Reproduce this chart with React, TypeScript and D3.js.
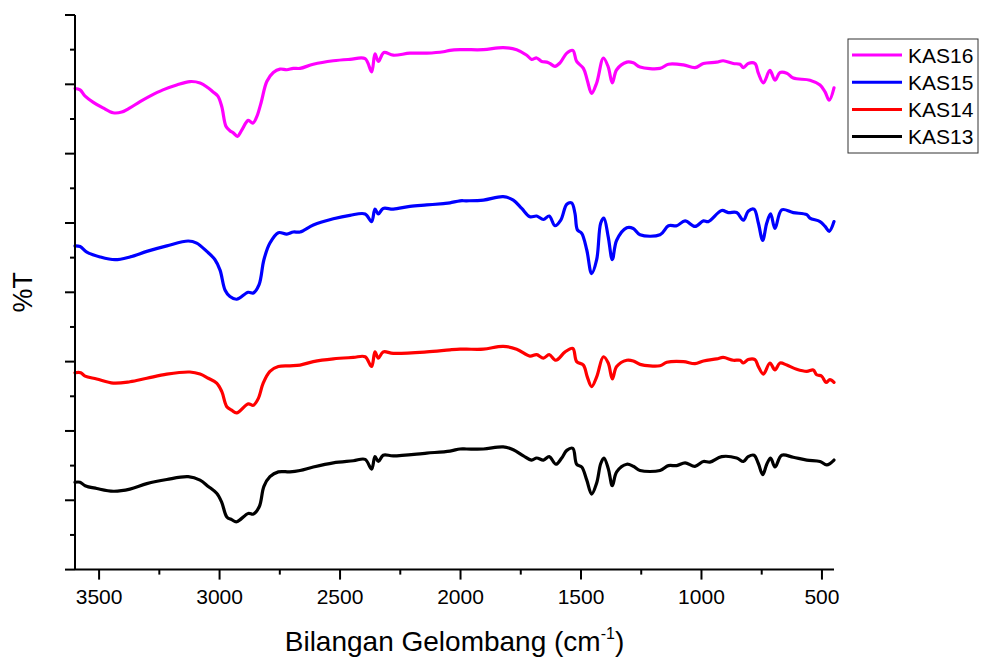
import React from 'react';
import * as d3 from 'd3';

// ---- data (wavenumber cm^-1, %T arbitrary offset units) ----
const xDomain: [number, number] = [3600, 450];
const yDomain: [number, number] = [0, 80];
const xMajorTicks = [3500, 3000, 2500, 2000, 1500, 1000, 500];
const xMinorTicks = [3250, 2750, 2250, 1750, 1250, 750];
const yMajorTicks = [0, 10, 20, 30, 40, 50, 60, 70, 80];
const yMinorTicks = [5, 15, 25, 35, 45, 55, 65, 75];

const seriesNames = ['KAS16', 'KAS15', 'KAS14', 'KAS13'];
const seriesColors = ['#FF00FF', '#0000FF', '#FF0000', '#000000'];

const kas16: [number, number][] = [
  [3600, 69.4], [3579, 69.2], [3558, 68.3], [3524, 67.4], [3484, 66.6], [3442, 65.9], [3406, 66.0],
  [3372, 66.6], [3330, 67.5], [3289, 68.3], [3235, 69.2], [3178, 69.9], [3123, 70.4], [3081, 70.2],
  [3048, 69.5], [3027, 68.9], [3007, 68.3], [2991, 66.8], [2973, 63.9], [2957, 63.3], [2943, 63.0],
  [2926, 62.5], [2908, 63.4], [2881, 64.8], [2862, 64.4], [2846, 65.3], [2828, 67.3], [2804, 70.4],
  [2777, 71.7], [2749, 72.2], [2721, 72.1], [2694, 72.3], [2666, 72.3], [2611, 72.9], [2528, 73.4],
  [2459, 73.6], [2396, 73.7], [2369, 71.8], [2355, 74.4], [2341, 73.3], [2318, 74.6], [2279, 74.2],
  [2210, 74.5], [2140, 74.5], [2071, 74.7], [2044, 74.9], [2002, 75.0], [1975, 75.0], [1905, 75.0],
  [1823, 75.3], [1767, 75.0], [1725, 74.2], [1705, 73.6], [1684, 73.8], [1663, 73.3], [1642, 73.2],
  [1629, 73.0], [1608, 72.6], [1587, 73.1], [1559, 74.5], [1534, 74.9], [1518, 73.3], [1490, 72.3],
  [1474, 70.6], [1456, 68.7], [1435, 70.2], [1407, 73.8], [1387, 72.5], [1370, 70.2], [1352, 72.1],
  [1310, 73.2], [1283, 73.1], [1255, 72.5], [1172, 72.3], [1137, 72.9], [1075, 72.8], [1027, 72.4],
  [992, 73.0], [937, 73.2], [910, 73.4], [868, 73.0], [840, 72.9], [826, 72.4], [806, 73.0],
  [778, 73.0], [764, 71.6], [743, 70.2], [716, 72.0], [695, 70.6], [674, 71.7], [646, 71.6],
  [619, 70.9], [550, 70.6], [508, 69.9], [487, 68.9], [470, 67.7], [450, 69.5],
];

const kas15: [number, number][] = [
  [3600, 46.7], [3579, 46.6], [3551, 45.8], [3496, 45.1], [3434, 44.7], [3372, 45.1], [3302, 45.9],
  [3219, 46.7], [3130, 47.4], [3095, 47.1], [3053, 45.9], [3019, 44.7], [2998, 43.2], [2977, 40.3],
  [2957, 39.4], [2929, 39.0], [2881, 40.0], [2860, 39.9], [2836, 41.1], [2816, 44.7], [2791, 47.1],
  [2756, 48.6], [2721, 48.4], [2694, 48.7], [2666, 48.7], [2611, 49.7], [2528, 50.6], [2459, 51.1],
  [2396, 51.3], [2369, 50.2], [2355, 52.0], [2341, 51.3], [2321, 52.1], [2279, 52.0], [2210, 52.4],
  [2140, 52.6], [2071, 52.8], [2044, 52.9], [2002, 53.2], [1975, 53.2], [1905, 53.3], [1823, 53.8],
  [1781, 53.3], [1746, 52.1], [1712, 50.9], [1684, 51.0], [1656, 50.5], [1632, 51.0], [1608, 49.6],
  [1584, 50.4], [1559, 52.7], [1539, 52.9], [1525, 51.4], [1515, 49.0], [1497, 48.5], [1476, 46.1],
  [1456, 42.7], [1435, 44.7], [1418, 50.0], [1405, 50.7], [1387, 48.0], [1370, 44.7], [1352, 47.5],
  [1310, 49.3], [1283, 49.2], [1255, 48.3], [1172, 48.3], [1137, 49.6], [1103, 49.6], [1068, 50.3],
  [1027, 49.5], [992, 50.3], [972, 50.2], [916, 51.8], [889, 51.5], [854, 51.5], [826, 50.4],
  [806, 51.7], [782, 52.0], [764, 50.0], [746, 47.5], [729, 50.0], [713, 51.3], [695, 49.2],
  [667, 51.9], [619, 51.5], [563, 51.2], [550, 50.7], [508, 50.2], [487, 49.5], [470, 48.8], [450, 50.2],
];

const kas14: [number, number][] = [
  [3600, 28.4], [3576, 28.4], [3558, 27.9], [3510, 27.5], [3441, 26.9], [3372, 27.1], [3302, 27.6],
  [3219, 28.2], [3123, 28.5], [3081, 28.2], [3047, 27.6], [3012, 26.9], [2991, 25.7], [2970, 23.5],
  [2950, 23.0], [2929, 22.6], [2881, 23.9], [2860, 23.7], [2839, 24.7], [2819, 26.9], [2791, 28.6],
  [2756, 29.3], [2708, 29.4], [2666, 29.5], [2611, 30.0], [2528, 30.4], [2445, 30.6], [2396, 30.7],
  [2369, 29.3], [2355, 31.4], [2341, 30.5], [2321, 31.4], [2279, 31.2], [2140, 31.4], [2044, 31.7],
  [2002, 31.8], [1975, 31.8], [1905, 31.8], [1823, 32.2], [1767, 31.8], [1712, 30.8], [1684, 31.0],
  [1656, 30.5], [1632, 31.0], [1604, 30.2], [1566, 31.4], [1534, 31.9], [1518, 30.0], [1490, 29.5],
  [1474, 27.8], [1456, 26.4], [1435, 27.8], [1407, 30.7], [1387, 29.8], [1370, 27.5], [1352, 29.3],
  [1310, 30.2], [1283, 30.1], [1255, 29.6], [1172, 29.4], [1144, 29.9], [1075, 30.0], [1027, 29.7],
  [992, 30.1], [937, 30.4], [910, 30.6], [868, 30.2], [840, 30.2], [826, 29.8], [806, 30.3],
  [778, 30.3], [764, 29.3], [743, 28.2], [716, 29.8], [695, 28.8], [674, 29.8], [646, 29.5],
  [605, 28.9], [563, 28.6], [536, 28.8], [522, 28.1], [501, 27.9], [483, 27.0], [467, 27.4], [450, 27.0],
];

const kas13: [number, number][] = [
  [3600, 12.6], [3579, 12.6], [3558, 12.1], [3510, 11.7], [3441, 11.3], [3372, 11.6], [3302, 12.4],
  [3219, 13.0], [3130, 13.4], [3081, 12.9], [3047, 12.0], [3012, 11.0], [2991, 9.7], [2970, 7.6],
  [2950, 7.2], [2929, 6.9], [2881, 8.1], [2860, 8.0], [2835, 9.1], [2816, 12.0], [2791, 13.4],
  [2756, 14.1], [2708, 14.1], [2666, 14.3], [2611, 14.8], [2528, 15.4], [2445, 15.7], [2396, 15.9],
  [2369, 14.5], [2355, 16.3], [2341, 15.6], [2321, 16.5], [2279, 16.4], [2140, 16.8], [2044, 17.1],
  [2002, 17.4], [1975, 17.4], [1905, 17.4], [1823, 17.7], [1781, 17.3], [1739, 16.4], [1705, 15.8],
  [1684, 16.1], [1656, 15.8], [1632, 16.3], [1604, 15.2], [1580, 16.1], [1559, 17.2], [1534, 17.5],
  [1518, 15.2], [1497, 14.8], [1476, 12.9], [1456, 10.9], [1435, 12.5], [1418, 15.3], [1405, 16.1],
  [1387, 14.6], [1370, 12.1], [1352, 14.1], [1310, 15.2], [1283, 14.9], [1255, 14.3], [1172, 14.3],
  [1137, 15.0], [1103, 15.0], [1068, 15.4], [1027, 14.9], [992, 15.6], [965, 15.5], [916, 16.3],
  [854, 16.1], [826, 15.6], [806, 16.3], [782, 16.5], [764, 15.3], [746, 13.7], [729, 15.2],
  [713, 16.1], [695, 14.8], [667, 16.5], [619, 16.2], [563, 15.8], [508, 15.6], [480, 15.1], [450, 15.8],
];

const seriesData = [kas16, kas15, kas14, kas13];

const W = 981;
const H = 659;
const FONT = "'Liberation Sans', Arial, sans-serif";

export default function App() {
  const x = d3.scaleLinear().domain(xDomain).range([75, 834]);
  const y = d3.scaleLinear().domain(yDomain).range([569.6, 15]);
  const line = d3
    .line<[number, number]>()
    .x((d) => x(d[0]))
    .y((d) => y(d[1]))
    .curve(d3.curveCatmullRom.alpha(0.5));

  const x0 = x(xDomain[0]);
  const x1 = x(xDomain[1]);
  const yb = y(yDomain[0]);
  const yt = y(yDomain[1]);

  return (
    <svg
      width={W}
      height={H}
      style={{ position: 'absolute', left: 0, top: 0, background: '#fff' }}
      fontFamily={FONT}
    >
      <rect x={0} y={0} width={W} height={H} fill="#fff" />
      {/* series */}
      {seriesData.map((d, i) => (
        <path
          key={seriesNames[i]}
          d={line(d) || ''}
          fill="none"
          stroke={seriesColors[i]}
          strokeWidth={3.2}
          strokeLinejoin="round"
          strokeLinecap="round"
        />
      ))}
      {/* y axis */}
      <line x1={x0} x2={x0} y1={yt} y2={yb} stroke="#000" strokeWidth={2} />
      {yMajorTicks.map((t) => (
        <line key={'ym' + t} x1={x0 - 10} x2={x0} y1={y(t)} y2={y(t)} stroke="#000" strokeWidth={2} />
      ))}
      {yMinorTicks.map((t) => (
        <line key={'yn' + t} x1={x0 - 5} x2={x0} y1={y(t)} y2={y(t)} stroke="#000" strokeWidth={2} />
      ))}
      {/* x axis */}
      <line x1={x0} x2={x1} y1={yb} y2={yb} stroke="#000" strokeWidth={2} />
      {xMajorTicks.map((t) => (
        <g key={'xm' + t}>
          <line x1={x(t)} x2={x(t)} y1={yb} y2={yb + 10} stroke="#000" strokeWidth={2} />
          <text x={x(t)} y={604} fontSize={21} textAnchor="middle" fill="#000">
            {t}
          </text>
        </g>
      ))}
      {xMinorTicks.map((t) => (
        <line key={'xn' + t} x1={x(t)} x2={x(t)} y1={yb} y2={yb + 5} stroke="#000" strokeWidth={2} />
      ))}
      {/* axis titles */}
      <text x={(x0 + x1) / 2} y={651} fontSize={28} textAnchor="middle" fill="#000">
        Bilangan Gelombang (cm
        <tspan fontSize={16} dy={-12}>-1</tspan>
        <tspan dy={12}>)</tspan>
      </text>
      <text
        transform={`translate(32, ${(yt + yb) / 2}) rotate(-90)`}
        fontSize={27}
        textAnchor="middle"
        fill="#000"
      >
        %T
      </text>
      {/* legend */}
      <rect x={848} y={39} width={130} height={114} fill="#fff" stroke="#333" strokeWidth={1} />
      {seriesNames.map((n, i) => (
        <g key={'lg' + n}>
          <line x1={852} x2={902} y1={55 + i * 27.2} y2={55 + i * 27.2} stroke={seriesColors[i]} strokeWidth={3} />
          <text x={908} y={55 + i * 27.2} dy="0.36em" fontSize={21} fill="#000">
            {n}
          </text>
        </g>
      ))}
    </svg>
  );
}
